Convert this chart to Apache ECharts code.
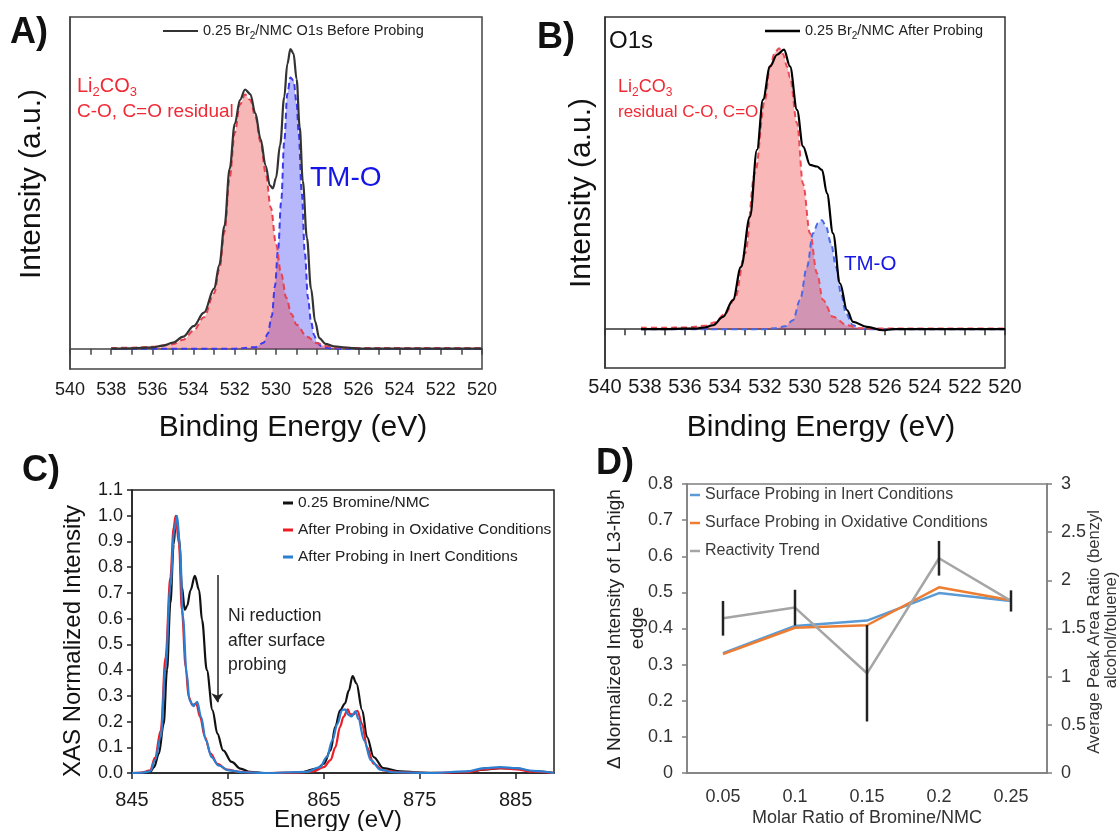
<!DOCTYPE html>
<html><head><meta charset="utf-8">
<script src="https://cdn.jsdelivr.net/npm/echarts@6/dist/echarts.min.js"></script>
<style>html,body{margin:0;padding:0;background:#fff}#c{width:1120px;height:831px}</style>
</head><body><div id="c"></div>
<script>
// ---------- Panel A (O1s before probing) ----------
const aTotalE = [538,537,536,535.5,535,534.5,534,533.5,533,532.75,532.5,532.25,532,531.75,531.5,531.25,531,530.75,530.5,530.3,530.15,530,529.8,529.6,529.45,529.3,529.15,529,528.85,528.7,528.5,528.3,528.1,527.9,527.6,527.2,526.5,526,524,522,520];
const aTotalI = [0,0.001,0.004,0.01,0.02,0.04,0.075,0.12,0.2,0.28,0.41,0.6,0.75,0.83,0.865,0.85,0.785,0.7,0.61,0.545,0.535,0.57,0.68,0.84,0.95,1.0,0.985,0.9,0.74,0.56,0.37,0.2,0.09,0.035,0.016,0.008,0.003,0,0,0,0];
const aCarbE = [538,537,536,535,534.5,534,533.5,533,532.75,532.5,532.25,532,531.75,531.5,531.25,531,530.75,530.5,530.25,530,529.75,529.5,529.25,529,528.5,528,527.5,527,526,524,522,520];
const aCarbI = [0.002,0.003,0.006,0.015,0.03,0.06,0.105,0.185,0.265,0.39,0.57,0.72,0.815,0.848,0.83,0.775,0.69,0.585,0.47,0.35,0.25,0.17,0.115,0.08,0.04,0.018,0.008,0.004,0.002,0.002,0.002,0.002];
const aTmoE = [538,532,531,530.6,530.4,530.2,530.05,529.9,529.75,529.6,529.45,529.3,529.15,529,528.9,528.75,528.6,528.45,528.3,528.15,528,527.8,527.5,527,524,520];
const aTmoI = [0,0,0.005,0.02,0.05,0.11,0.21,0.33,0.49,0.69,0.85,0.905,0.895,0.82,0.72,0.52,0.32,0.17,0.09,0.045,0.02,0.008,0.002,0,0,0];

// ---------- Panel B (O1s after probing) ----------
const bTotalE = [538.2,537,536,535.5,535,534.6,534.1,533.6,533.2,532.75,532.4,532.1,531.75,531.4,531.05,530.75,530.4,530.1,529.75,529.4,529.15,528.9,528.6,528.25,527.9,527.6,526.9,526.1,525.6,524,522,520];
const bTotalI = [0,0,0.002,0.002,0.006,0.014,0.044,0.104,0.223,0.403,0.642,0.821,0.94,0.982,1.0,0.94,0.785,0.654,0.588,0.582,0.57,0.486,0.343,0.164,0.068,0.026,0.008,-0.004,0,0,0,0];
const bCarbE = [538.2,537,536,535,534.5,534,533.5,533,532.5,532,531.75,531.5,531.3,531.1,530.9,530.75,530.4,530.1,529.75,529.4,529.1,528.6,527.9,527.25,526,524,522,520];
const bCarbI = [0.005,0.005,0.006,0.012,0.025,0.055,0.11,0.27,0.56,0.82,0.94,0.99,1.005,0.985,0.94,0.9,0.737,0.52,0.343,0.2,0.104,0.044,0.014,0.003,0.002,0.002,0.002,0.002];
const bTmoE = [538.2,532,531.5,531,530.6,530.25,529.9,529.6,529.35,529.15,528.95,528.7,528.45,528.2,527.95,527.6,527.25,527,524,520];
const bTmoI = [0,0,0.003,0.01,0.032,0.104,0.223,0.343,0.379,0.39,0.367,0.307,0.223,0.128,0.056,0.014,0.002,0,0,0];

// ---------- Panel C (Ni L-edge XAS) ----------
const cBlackE = [845,846,846.9,847.3,847.8,848.3,848.65,849.0,849.35,849.6,849.9,850.2,850.5,850.75,851.1,851.55,852.0,852.3,852.8,853.4,853.9,854.5,855.4,856.3,857.3,859,862.5,864.3,865,865.7,866.2,866.7,867.2,867.6,868.0,868.4,869.0,869.5,870.2,871.2,873,875,878,880,881.7,883.4,885.1,886.8,889];
const cBlackI = [0,0,0.004,0.023,0.075,0.19,0.40,0.66,0.89,1.0,0.92,0.725,0.634,0.65,0.71,0.766,0.71,0.595,0.40,0.244,0.153,0.088,0.043,0.017,0.004,0,0.002,0.017,0.036,0.088,0.18,0.244,0.27,0.32,0.377,0.348,0.244,0.14,0.062,0.019,0.006,0.002,0,0.004,0.013,0.019,0.017,0.006,0];
const cRedE = [845,846,846.9,847.4,848,848.5,849,849.35,849.55,849.9,850.2,850.6,850.9,851.3,851.7,852.1,852.6,853.2,853.9,854.9,856.3,859,862,863.9,865,865.7,866.2,866.7,867.05,867.5,867.75,868.1,868.5,869,869.5,870.2,871.2,873,876,879.9,881.7,883.4,885.1,886.8,889];
const cRedI = [0,0.002,0.01,0.06,0.166,0.45,0.76,0.955,1.0,0.89,0.634,0.413,0.296,0.264,0.27,0.218,0.14,0.075,0.036,0.013,0.004,0,0.001,0.006,0.023,0.05,0.1,0.18,0.218,0.247,0.228,0.228,0.242,0.19,0.1,0.036,0.01,0.003,0,0.003,0.014,0.019,0.014,0.005,0];
const cBlueE = [845,846,846.9,847.4,848,848.5,849,849.4,849.7,850,850.3,850.7,851,851.4,851.8,852.2,852.7,853.3,854,855.1,856.6,859,863.2,864.6,865.3,865.9,866.4,866.9,867.2,867.6,867.9,868.3,868.6,869.2,869.9,870.9,872.3,876,879.9,881.7,883.4,885.1,886.8,889];
const cBlueI = [0,0.001,0.006,0.05,0.14,0.41,0.725,0.94,1.0,0.88,0.61,0.387,0.283,0.26,0.277,0.218,0.127,0.062,0.03,0.01,0.003,0,0.004,0.023,0.062,0.127,0.19,0.244,0.247,0.225,0.22,0.24,0.21,0.127,0.05,0.013,0.003,0,0.006,0.019,0.023,0.019,0.008,0];

// ---------- Panel D ----------
const dCategories = ['0.05','0.1','0.15','0.2','0.25'];
const dInert = [0.332,0.407,0.422,0.498,0.476];
const dOxid = [0.329,0.402,0.409,0.514,0.478];
const dReact = [1.606,1.717,1.035,2.229,1.786];
const dReactErr = [0.18,0.185,0.50,0.18,0.11];

const F = "'Liberation Sans', Arial, sans-serif";
const zip = (e, v) => e.map((x, i) => [x, v[i]]);

const nameA = '0.25 Br2/NMC O1s Before Probing';
const nameB = '0.25 Br2/NMC After Probing';
const cNames = ['0.25 Bromine/NMC', 'After Probing in Oxidative Conditions', 'After Probing in Inert Conditions'];
const dNames = ['Surface Probing in Inert Conditions', 'Surface Probing in Oxidative Conditions', 'Reactivity Trend'];

const subFmt = n => n.replace('Br2', 'Br{sub|2}');

function xpsX(grid, fs, margin, col) {
  return {gridIndex: grid, type: 'value', min: 520, max: 540, interval: 2, inverse: true,
    axisLine: {lineStyle: {color: col, width: 1.5}},
    axisTick: {length: 6, lineStyle: {color: col, width: 1.5}},
    minorTick: {show: true, splitNumber: 2, length: 6, lineStyle: {color: col, width: 1.5}},
    splitLine: {show: false}, minorSplitLine: {show: false},
    axisLabel: {fontSize: fs, color: '#1a1a1a', margin: margin, fontFamily: F}};
}
function xpsY(grid, min, max, col) {
  return {gridIndex: grid, type: 'value', min: min, max: max,
    axisLine: {show: true, lineStyle: {color: col, width: 1.5}},
    axisTick: {show: false}, axisLabel: {show: false}, splitLine: {show: false}};
}
function areaSeries(name, xi, data, lineCol, fillCol) {
  return {name: name, type: 'line', xAxisIndex: xi, yAxisIndex: xi, data: data,
    showSymbol: false, smooth: 0.35, smoothMonotone: 'x', z: 2,
    lineStyle: {color: lineCol, width: 2, type: [6, 4]},
    itemStyle: {color: lineCol},
    areaStyle: {color: fillCol, origin: 'auto'}};
}
function lineSeries(name, xi, yi, data, col, w, z) {
  return {name: name, type: 'line', xAxisIndex: xi, yAxisIndex: yi, data: data,
    showSymbol: false, smooth: 0.35, smoothMonotone: 'x', z: z || 3,
    lineStyle: {color: col, width: w}, itemStyle: {color: col}};
}

const option = {
  animation: false,
  backgroundColor: '#fff',
  grid: [
    {left: 70, top: 17, width: 412, height: 352, show: true, borderColor: '#444', borderWidth: 1.5},
    {left: 605, top: 17, width: 400, height: 351, show: true, borderColor: '#333', borderWidth: 1.5},
    {left: 132, top: 490, width: 422, height: 283, show: true, borderColor: '#222', borderWidth: 1.5},
    {left: 687, top: 484, width: 360, height: 289, show: true, borderColor: '#7f7f7f', borderWidth: 1.5}
  ],
  xAxis: [
    xpsX(0, 18, 12, '#444'),
    xpsX(1, 20, 9, '#333'),
    {gridIndex: 2, type: 'value', min: 845, max: 889, interval: 10,
      axisLine: {lineStyle: {color: '#222', width: 1.5}},
      axisTick: {length: 6, lineStyle: {color: '#222', width: 1.5}},
      splitLine: {show: false},
      axisLabel: {fontSize: 20, color: '#1a1a1a', margin: 17, fontFamily: F, showMaxLabel: false}},
    {gridIndex: 3, type: 'category', data: dCategories, boundaryGap: true,
      axisLine: {lineStyle: {color: '#7f7f7f', width: 1.5}},
      axisTick: {length: 5, lineStyle: {color: '#7f7f7f', width: 1.5}},
      axisLabel: {fontSize: 18, color: '#333', margin: 15, fontFamily: F}}
  ],
  yAxis: [
    xpsY(0, -0.068, 1.107, '#444'),
    xpsY(1, -0.139, 1.117, '#333'),
    {gridIndex: 2, type: 'value', min: 0, max: 1.1, interval: 0.1,
      axisLine: {show: true, lineStyle: {color: '#222', width: 1.5}},
      axisTick: {show: true, length: 5, lineStyle: {color: '#222', width: 1.5}},
      splitLine: {show: false},
      axisLabel: {fontSize: 18, color: '#1a1a1a', margin: 9, fontFamily: F, formatter: v => v.toFixed(1)}},
    {gridIndex: 3, type: 'value', min: 0, max: 0.8, interval: 0.1,
      axisLine: {show: true, lineStyle: {color: '#7f7f7f', width: 1.5}},
      axisTick: {show: true, length: 5, lineStyle: {color: '#7f7f7f', width: 1.5}},
      splitLine: {show: false},
      axisLabel: {fontSize: 18, color: '#333', margin: 14, fontFamily: F}},
    {gridIndex: 3, type: 'value', position: 'right', min: 0, max: 3, interval: 0.5,
      axisLine: {show: true, lineStyle: {color: '#7f7f7f', width: 1.5}},
      axisTick: {show: true, length: 5, lineStyle: {color: '#7f7f7f', width: 1.5}},
      splitLine: {show: false},
      axisLabel: {fontSize: 18, color: '#333', margin: 14, fontFamily: F}}
  ],
  legend: [
    {data: [nameA], left: 163, top: 21, padding: 0, itemWidth: 35, itemHeight: 2, icon: 'rect',
      formatter: subFmt,
      textStyle: {fontSize: 14.5, lineHeight: 20, color: '#222', fontFamily: F,
        rich: {sub: {fontSize: 10, lineHeight: 10, verticalAlign: 'bottom', fontFamily: F, color: '#222'}}}},
    {data: [nameB], left: 765, top: 21, padding: 0, itemWidth: 35, itemHeight: 2.5, icon: 'rect',
      formatter: subFmt,
      textStyle: {fontSize: 14.5, lineHeight: 20, color: '#222', fontFamily: F,
        rich: {sub: {fontSize: 10, lineHeight: 10, verticalAlign: 'bottom', fontFamily: F, color: '#222'}}}},
    {data: cNames, orient: 'vertical', left: 283, top: 495, padding: 0, itemWidth: 10, itemHeight: 3,
      itemGap: 11, icon: 'rect', textStyle: {fontSize: 15.5, color: '#222', fontFamily: F}},
    {data: dNames, orient: 'vertical', left: 690, top: 487, padding: 0, itemWidth: 10, itemHeight: 2.5,
      itemGap: 12, icon: 'rect', textStyle: {fontSize: 16, color: '#3a3a3a', fontFamily: F}}
  ],
  series: [
    areaSeries('A TM-O', 0, zip(aTmoE, aTmoI), '#3a3af0', 'rgba(40,40,245,0.48)'),
    areaSeries('A Li2CO3', 0, zip(aCarbE, aCarbI), '#e8404f', 'rgba(235,50,50,0.5)'),
    lineSeries(nameA, 0, 0, zip(aTotalE, aTotalI), '#333', 2.2, 4),

    areaSeries('B TM-O', 1, zip(bTmoE, bTmoI), '#4a6ae8', 'rgba(60,90,235,0.45)'),
    areaSeries('B Li2CO3', 1, zip(bCarbE, bCarbI), '#ee4a55', 'rgba(238,50,50,0.5)'),
    lineSeries(nameB, 1, 1, zip(bTotalE, bTotalI), '#000', 2.2, 4),

    Object.assign(lineSeries(cNames[0], 2, 2, zip(cBlackE, cBlackI), '#111', 2.2, 3), {
      markLine: {silent: true, symbol: ['none', 'arrow'], symbolSize: 9, animation: false,
        lineStyle: {color: '#222', width: 1.5, type: 'solid'}, label: {show: false},
        data: [[{coord: [853.9, 0.77]}, {coord: [853.9, 0.275]}]]}
    }),
    lineSeries(cNames[1], 2, 2, zip(cRedE, cRedI), '#ee1c25', 2.2, 4),
    lineSeries(cNames[2], 2, 2, zip(cBlueE, cBlueI), '#2a7fd0', 2.2, 5),

    {name: dNames[0], type: 'line', xAxisIndex: 3, yAxisIndex: 3, data: dInert, showSymbol: false,
      lineStyle: {color: '#5b9bd5', width: 2.5}, itemStyle: {color: '#5b9bd5'}, z: 3},
    {name: dNames[1], type: 'line', xAxisIndex: 3, yAxisIndex: 3, data: dOxid, showSymbol: false,
      lineStyle: {color: '#ed7d31', width: 2.5}, itemStyle: {color: '#ed7d31'}, z: 4},
    {name: dNames[2], type: 'line', xAxisIndex: 3, yAxisIndex: 4, data: dReact, showSymbol: false,
      lineStyle: {color: '#a5a5a5', width: 2.5}, itemStyle: {color: '#a5a5a5'}, z: 5},
    {name: 'Reactivity error', type: 'custom', xAxisIndex: 3, yAxisIndex: 4, z: 6,
      data: dReact.map((v, i) => [i, v, dReactErr[i]]),
      renderItem: (params, api) => {
        const i = api.value(0), v = api.value(1), e = api.value(2);
        const p1 = api.coord([i, v - e]), p2 = api.coord([i, v + e]);
        return {type: 'line', shape: {x1: p1[0], y1: p1[1], x2: p2[0], y2: p2[1]},
          style: {stroke: '#222', lineWidth: 2.5}};
      }}
  ],
  graphic: [
    {type: 'text', x: 10, y: 33, style: {text: 'A)', fontSize: 36, fontWeight: 'bold', fontFamily: F, fill: '#111', verticalAlign: 'middle'}},
    {type: 'text', x: 537, y: 38, style: {text: 'B)', fontSize: 36, fontWeight: 'bold', fontFamily: F, fill: '#111', verticalAlign: 'middle'}},
    {type: 'text', x: 22, y: 471, style: {text: 'C)', fontSize: 36, fontWeight: 'bold', fontFamily: F, fill: '#111', verticalAlign: 'middle'}},
    {type: 'text', x: 596, y: 464, style: {text: 'D)', fontSize: 36, fontWeight: 'bold', fontFamily: F, fill: '#111', verticalAlign: 'middle'}},

    {type: 'text', x: 77, y: 86, style: {text: 'Li{s|2}CO{s|3}', fontSize: 20, lineHeight: 26, fontFamily: F, fill: '#f02a35', verticalAlign: 'middle',
      rich: {s: {fontSize: 13, lineHeight: 13, verticalAlign: 'bottom', fontFamily: F, fill: '#f02a35'}}}},
    {type: 'text', x: 77, y: 112, style: {text: 'C-O, C=O residual', fontSize: 19, fontFamily: F, fill: '#f02a35', verticalAlign: 'middle'}},
    {type: 'text', x: 310, y: 178, style: {text: 'TM-O', fontSize: 28, fontFamily: F, fill: '#1515e6', verticalAlign: 'middle'}},
    {type: 'text', x: 32, y: 184, rotation: Math.PI / 2, style: {text: 'Intensity (a.u.)', fontSize: 30, fontFamily: F, fill: '#111', align: 'center', verticalAlign: 'middle'}},
    {type: 'text', x: 293, y: 428, style: {text: 'Binding Energy (eV)', fontSize: 30, fontFamily: F, fill: '#111', align: 'center', verticalAlign: 'middle'}},

    {type: 'text', x: 609, y: 41, style: {text: 'O1s', fontSize: 24, fontFamily: F, fill: '#111', verticalAlign: 'middle'}},
    {type: 'text', x: 618, y: 87, style: {text: 'Li{s|2}CO{s|3}', fontSize: 18, lineHeight: 24, fontFamily: F, fill: '#f02a35', verticalAlign: 'middle',
      rich: {s: {fontSize: 12, lineHeight: 12, verticalAlign: 'bottom', fontFamily: F, fill: '#f02a35'}}}},
    {type: 'text', x: 618, y: 112, style: {text: 'residual C-O, C=O', fontSize: 17, fontFamily: F, fill: '#f02a35', verticalAlign: 'middle'}},
    {type: 'text', x: 844, y: 264, style: {text: 'TM-O', fontSize: 20.5, fontFamily: F, fill: '#1515e6', verticalAlign: 'middle'}},
    {type: 'text', x: 582, y: 193, rotation: Math.PI / 2, style: {text: 'Intensity (a.u.)', fontSize: 30, fontFamily: F, fill: '#111', align: 'center', verticalAlign: 'middle'}},
    {type: 'text', x: 821, y: 428, style: {text: 'Binding Energy (eV)', fontSize: 30, fontFamily: F, fill: '#111', align: 'center', verticalAlign: 'middle'}},

    {type: 'text', x: 73, y: 641, rotation: Math.PI / 2, style: {text: 'XAS Normalized Intensity', fontSize: 24, fontFamily: F, fill: '#111', align: 'center', verticalAlign: 'middle'}},
    {type: 'text', x: 338, y: 820, style: {text: 'Energy (eV)', fontSize: 24, fontFamily: F, fill: '#111', align: 'center', verticalAlign: 'middle'}},
    {type: 'text', x: 228, y: 616, style: {text: 'Ni reduction', fontSize: 17.5, fontFamily: F, fill: '#222', verticalAlign: 'middle'}},
    {type: 'text', x: 228, y: 641, style: {text: 'after surface', fontSize: 17.5, fontFamily: F, fill: '#222', verticalAlign: 'middle'}},
    {type: 'text', x: 228, y: 665, style: {text: 'probing', fontSize: 17.5, fontFamily: F, fill: '#222', verticalAlign: 'middle'}},

    {type: 'text', x: 615, y: 629, rotation: Math.PI / 2, style: {text: 'Δ Normalized Intensity of L3-high', fontSize: 19, fontFamily: F, fill: '#222', align: 'center', verticalAlign: 'middle'}},
    {type: 'text', x: 638, y: 628, rotation: Math.PI / 2, style: {text: 'edge', fontSize: 19, fontFamily: F, fill: '#222', align: 'center', verticalAlign: 'middle'}},
    {type: 'text', x: 1094, y: 632, rotation: Math.PI / 2, style: {text: 'Average Peak Area Ratio (benzyl', fontSize: 16.5, fontFamily: F, fill: '#333', align: 'center', verticalAlign: 'middle'}},
    {type: 'text', x: 1111, y: 630, rotation: Math.PI / 2, style: {text: 'alcohol/toluene)', fontSize: 16.5, fontFamily: F, fill: '#333', align: 'center', verticalAlign: 'middle'}},
    {type: 'text', x: 867, y: 818, style: {text: 'Molar Ratio of Bromine/NMC', fontSize: 18, fontFamily: F, fill: '#333', align: 'center', verticalAlign: 'middle'}}
  ]
};

const chart = echarts.init(document.getElementById('c'), null, {renderer: 'canvas'});
chart.setOption(option);
</script></body></html>
